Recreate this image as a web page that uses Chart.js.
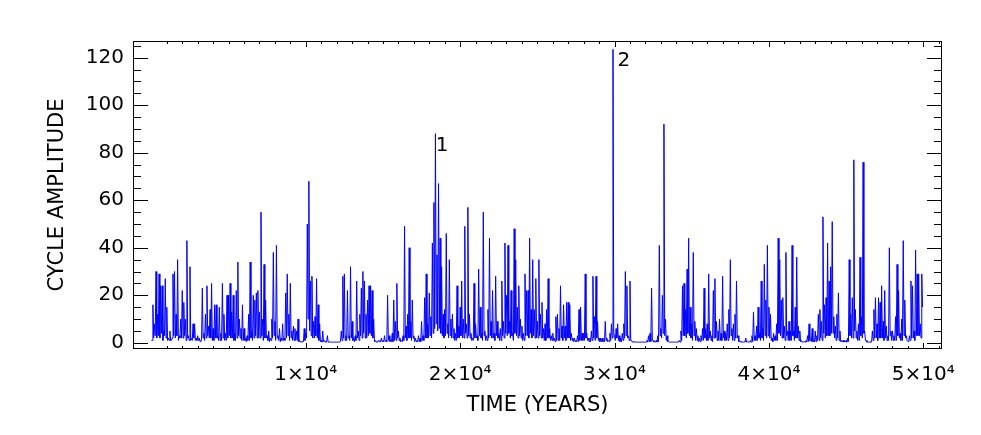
<!DOCTYPE html>
<html>
<head>
<meta charset="utf-8">
<script src="https://cdn.jsdelivr.net/npm/chart.js@4.4.1/dist/chart.umd.min.js"></script>
<style>
  html, body { margin: 0; padding: 0; background: #ffffff; }
  #wrap { width: 981px; height: 435px; }
</style>
</head>
<body>
<div id="wrap"><canvas id="c" width="981" height="435"></canvas></div>
<script>
// ---- DATA ----
// spike heights every 100 years, and the low values the line falls to right after each spike
const SAMPLE_YEARS = 100;
const amp0to10k = [
  1,16,8,30,12,29,24,24,5,27,
  15,2,5,1,29,30,12,35,3,10,
  22,17,10,43,3,32,2,8,8,2,
  3,2,1,23,4,12,24,7,14,25,
  6,16,16,3,15,4,25,12,4,20,
  20,25,13,20,4,22,34,10,6,16,
  6,2,3,12,34,5,20,18,21,22,
  13,55,10,33,18,3,5,2,10,38,
  9,41,3,6,2,8,2,21,29,12,
  25,5,7,6,5,10,1,0.5,0.5,6
];
const amp10to20k = [
  4,50,68,26,28,9,11,27,16,8,
  1,5,1,0.5,3,0.5,0.3,0.3,0.3,0.3,
  0.3,0.3,0.3,5,28,29,3,22,3,32,
  9,2,3,26,5,12,23,30,26,12,
  18,24,24,22,10,1,0.5,1,1,2,
  1,3,1,20,3,1,4,18,9,25,
  5,2,1,3,49,7,12,40,9,18,
  3,2,1,3,2,9,3,19,29,8,
  21,11,42,59,88,37,67,44,32,12,
  14,46,8,35,10,12,6,4,24,7
];
const amp20to30k = [
  15,26,10,49,8,57,12,4,2,25,
  8,3,31,15,4,55,5,3,14,44,
  9,22,4,28,9,4,6,26,9,42,
  20,41,9,22,4,48,35,15,24,10,
  7,4,29,22,22,44,14,35,14,27,
  9,35,12,17,6,8,14,27,6,3,
  4,2,11,12,6,24,7,16,7,17,
  17,16,4,2,2,1,3,14,15,4,
  4,29,4,2,2,5,28,11,28,9,
  2,2,2,1,9,2,1,4,8,123.5
];
const amp30to40k = [
  3,6,8,3,2,4,8,30,24,3,
  26,1,0.5,0.3,0.3,0.3,0.3,0.3,0.3,0.3,
  0.3,1,3,4,23,1,0.5,1,3,41,
  6,20,92,10,3,0.5,0.3,0.3,0.3,0.3,
  0.3,0.5,1,5,24,25,14,31,44,15,
  8,38,9,6,3,2,3,6,23,6,
  8,29,5,3,22,27,9,5,10,4,
  28,5,4,8,14,35,6,8,12,26,
  3,1,0.5,0.3,0.5,2,0.5,0.3,1,3,
  13,3,7,15,4,26,6,33,18,41
];
const amp40to50k = [
  15,12,2,4,3,8,44,35,18,19,
  7,38,5,9,5,41,5,15,36,7,
  5,1,0.5,0.5,1,3,8,1,6,1,
  5,3,12,14,9,53,16,19,42,26,
  32,51,11,7,12,21,5,1,1,1,
  1,2,35,12,19,77,14,5,8,36,
  11,76,5,1,0.3,0.3,0.5,5,14,19,
  8,19,17,24,9,22,7,3,40,5,
  5,3,11,33,22,4,10,43,18,3,
  1,3,26,24,5,39,29,29,8,29
];
const low0to10k = [
  1,2,3,2,3,2,4,1,3,2,
  1,1,1,2,3,2,3,1,2,2,
  2,3,1,2,1,1,1,2,1,1,
  1,0.5,1,2,1,2,3,2,2,1,
  1,2,2,1,1,1,2,1,1,2,
  3,2,2,1,1,2,3,2,1,1,
  1,0.5,1,1,2,1,2,3,2,2,
  2,3,1,2,2,1,0.5,1,2,3,
  1,2,1,0.5,1,1,1,2,3,1,
  2,1,1,1,1,0.5,0.3,0.3,0.5,1
];
const low10to20k = [
  2,10,5,3,2,2,3,2,1,0.5,
  0.3,0.5,0.3,0.3,0.3,0.3,0.3,0.3,0.3,0.3,
  0.3,0.3,0.5,1,2,1,1,2,1,2,
  1,0.5,1,2,1,3,2,4,2,2,
  3,4,3,2,0.5,0.3,0.3,0.5,0.5,0.5,
  0.5,0.5,0.5,1,0.5,0.5,0.5,1,1,2,
  1,0.5,0.5,1,2,1,2,2,1,2,
  0.5,0.5,0.5,0.5,0.5,1,1,2,2,2,
  3,2,4,6,8,5,6,4,3,2,
  3,4,2,3,2,2,1,1,2,2
];
const low20to30k = [
  3,2,2,4,2,3,2,1,1,2,
  2,1,3,2,1,3,1,1,2,3,
  2,2,1,3,2,1,1,3,2,4,
  3,4,2,3,1,4,3,2,3,2,
  1,1,3,3,2,4,2,3,2,2,
  2,3,2,2,1,1,2,2,1,1,
  1,0.5,1,1,1,2,1,2,1,2,
  2,1,1,0.5,0.5,0.5,0.5,1,1,1,
  1,2,1,0.5,0.5,1,2,1,2,1,
  0.5,0.5,0.5,0.5,1,0.5,0.5,1,2,4
];
const low30to40k = [
  1,2,1,0.5,0.5,1,2,3,2,1,
  1,0.3,0.3,0.3,0.3,0.3,0.3,0.3,0.3,0.3,
  0.3,0.3,0.5,0.5,1,0.3,0.3,0.3,0.5,3,
  2,4,3,1,0.5,0.3,0.3,0.3,0.3,0.3,
  0.3,0.3,0.3,1,3,3,2,4,3,2,
  1,3,1,1,0.5,0.5,1,1,2,1,
  1,2,1,0.5,2,2,1,1,1,1,
  2,1,1,1,2,3,1,1,2,2,
  0.5,0.3,0.3,0.3,0.3,0.3,0.3,0.3,0.3,0.5,
  1,1,1,2,1,2,1,3,2,3
];
const low40to50k = [
  2,1,0.5,1,1,1,4,3,2,2,
  1,3,1,1,1,3,1,2,2,1,
  0.5,0.3,0.3,0.3,0.3,0.5,1,0.5,0.5,0.3,
  0.5,1,1,2,1,4,2,3,3,3,
  4,4,2,1,2,1,0.5,0.3,0.3,0.3,
  0.3,0.5,3,2,2,5,2,1,1,3,
  2,4,1,0.3,0.3,0.3,0.3,1,2,2,
  1,2,2,2,1,2,1,1,3,1,
  1,1,1,3,2,1,1,3,2,1,
  0.3,1,2,2,1,3,3,3,2,15
];
const xTickValues = [10000, 20000, 30000, 40000, 50000];
const xTickLabels = ['1×10⁴', '2×10⁴', '3×10⁴', '4×10⁴', '5×10⁴'];
const yTickValues = [0, 20, 40, 60, 80, 100, 120];
const peakLabels = ['1', '2'];
const peakLabelYears = [18830, 30610];
const peakLabelValues = [83, 118.6];
const X_TITLE = 'TIME (YEARS)';
const Y_TITLE = 'CYCLE AMPLITUDE';

// ---- build the series ----
const peaks = [].concat(amp0to10k, amp10to20k, amp20to30k, amp30to40k, amp40to50k);
const lows = [].concat(low0to10k, low10to20k, low20to30k, low30to40k, low40to50k);
const points = [];
peaks.forEach((v, i) => {
  points.push({ x: i * SAMPLE_YEARS, y: v });
  points.push({ x: i * SAMPLE_YEARS + SAMPLE_YEARS / 2, y: lows[i] });
});

const FONT = 'DejaVu Sans';

const frameAndTicks = {
  id: 'frameAndTicks',
  afterDatasetsDraw(chart) {
    const { ctx, chartArea: a, scales: { x, y } } = chart;
    ctx.save();
    ctx.strokeStyle = '#000000';
    ctx.lineWidth = 1;
    ctx.strokeRect(a.left + 0.5, a.top + 0.5, a.right - a.left - 1, a.bottom - a.top - 1);
    ctx.beginPath();
    for (let v = 1000; v <= 51000; v += 1000) {
      const px = Math.round(x.getPixelForValue(v)) + 0.5;
      if (px <= a.left + 1 || px >= a.right - 1) continue;
      const len = v % 10000 === 0 ? 6 : 3;
      ctx.moveTo(px, a.bottom); ctx.lineTo(px, a.bottom - len);
      ctx.moveTo(px, a.top); ctx.lineTo(px, a.top + len);
    }
    for (let v = 0; v <= 125; v += 5) {
      const py = Math.round(y.getPixelForValue(v)) + 0.5;
      const len = v % 20 === 0 ? 15 : 8;
      ctx.moveTo(a.left, py); ctx.lineTo(a.left + len, py);
      ctx.moveTo(a.right, py); ctx.lineTo(a.right - len, py);
    }
    ctx.stroke();
    ctx.fillStyle = '#000000';
    ctx.font = '20px "' + FONT + '"';
    ctx.textAlign = 'center';
    ctx.textBaseline = 'middle';
    peakLabels.forEach((t, i) => {
      ctx.fillText(t, x.getPixelForValue(peakLabelYears[i]), y.getPixelForValue(peakLabelValues[i]));
    });
    ctx.restore();
  }
};

new Chart(document.getElementById('c'), {
  type: 'line',
  data: {
    datasets: [{
      data: points,
      borderColor: '#0000ff',
      borderWidth: 1,
      pointRadius: 0,
      tension: 0,
      fill: false
    }]
  },
  options: {
    responsive: false,
    devicePixelRatio: 1,
    animation: false,
    events: [],
    layout: { padding: { left: 0, top: 41, right: 39, bottom: 0 } },
    plugins: { legend: { display: false }, tooltip: { enabled: false } },
    scales: {
      x: {
        type: 'linear',
        min: -1190,
        max: 51210,
        afterFit: s => { s.height = 86; },
        afterBuildTicks: s => { s.ticks = xTickValues.map(v => ({ value: v })); },
        grid: { display: false, drawTicks: false },
        border: { display: false },
        ticks: {
          color: '#000000',
          font: { family: FONT, size: 20 },
          padding: 14,
          maxRotation: 0,
          autoSkip: false,
          callback: (v) => { const k = xTickValues.indexOf(v); return k >= 0 ? xTickLabels[k] : ''; }
        },
        title: {
          display: true, text: X_TITLE, color: '#000000',
          font: { family: FONT, size: 21 },
          padding: { top: 0, bottom: 17 }
        }
      },
      y: {
        min: -2.6,
        max: 127,
        afterFit: s => { s.width = 133; },
        afterBuildTicks: s => { s.ticks = yTickValues.map(v => ({ value: v })); },
        grid: { display: false, drawTicks: false },
        border: { display: false },
        ticks: {
          color: '#000000',
          font: { family: FONT, size: 20 },
          padding: 9,
          autoSkip: false
        },
        title: {
          display: true, text: Y_TITLE, color: '#000000',
          font: { family: FONT, size: 21 },
          padding: { top: 45, bottom: 0 }
        }
      }
    }
  },
  plugins: [frameAndTicks]
});
</script>
</body>
</html>
